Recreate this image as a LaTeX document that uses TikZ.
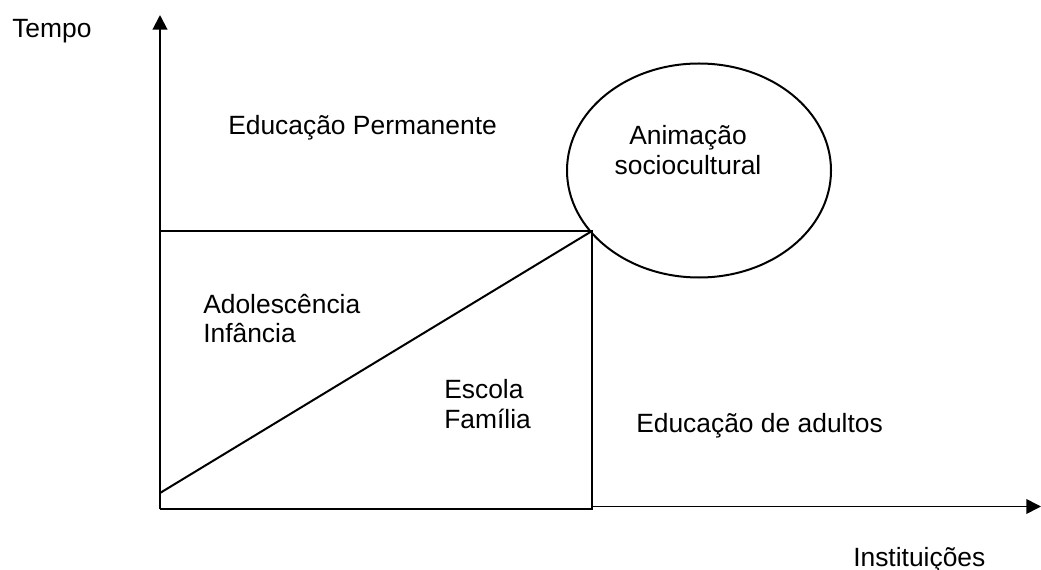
\documentclass[tikz,border=0pt]{standalone}
\usepackage{fontspec}
\setmainfont{Liberation Sans}
\usetikzlibrary{arrows.meta,shapes.geometric}
\begin{document}
\begin{tikzpicture}[x=0.75pt,y=-0.75pt,
  lbl/.style={anchor=base west,inner sep=0pt,font=\fontsize{19.8pt}{22.5pt}\selectfont},
  lblc/.style={anchor=base,inner sep=0pt,font=\fontsize{19.8pt}{22.5pt}\selectfont},
  edge/.style={line width=1.5pt},
  axisline/.style={line width=1.5pt,-{Triangle[length=11pt,width=11pt]}},
  axisthin/.style={line width=1.2pt,-{Triangle[length=11pt,width=11pt]}}]
\useasboundingbox (0,0) rectangle (1041,570);
% coordinates
\coordinate (O) at (160,509);
\coordinate (Ttop) at (160,15);
\coordinate (TL) at (160,231);
\coordinate (TR) at (592,231);
\coordinate (BR) at (592,509);
\coordinate (D0) at (160,493);
\coordinate (H0) at (592,506.5);
\coordinate (Hend) at (1041,506.5);
% ellipse
\node[draw,ellipse,line width=1.5pt,inner sep=0pt,minimum width=198pt,minimum height=160.5pt] (anim) at (699,170.5) {};
% axes and box
\draw[axisline] (O) -- (Ttop);
\draw[edge] (TL) -- (TR) -- (BR) -- (O);
\draw[edge] (D0) -- (TR);
\draw[axisthin] (H0) -- (Hend);
% labels
\node[lbl] (tempo) at (12,38) {Tempo};
\node[lbl] (perm) at (228,135) {Educação Permanente};
\node[lblc] (anim1) at (688,145) {Animação};
\node[lblc] (anim2) at (688,175) {sociocultural};
\node[lbl] (adol) at (203,313) {Adolescência};
\node[lbl] (inf) at (203,342) {Infância};
\node[lbl] (esc) at (444,398) {Escola};
\node[lbl] (fam) at (444,428) {Família};
\node[lbl] (adult) at (636,432) {Educação de adultos};
\node[lbl] (inst) at (853,566) {Instituições};
\end{tikzpicture}
\end{document}
